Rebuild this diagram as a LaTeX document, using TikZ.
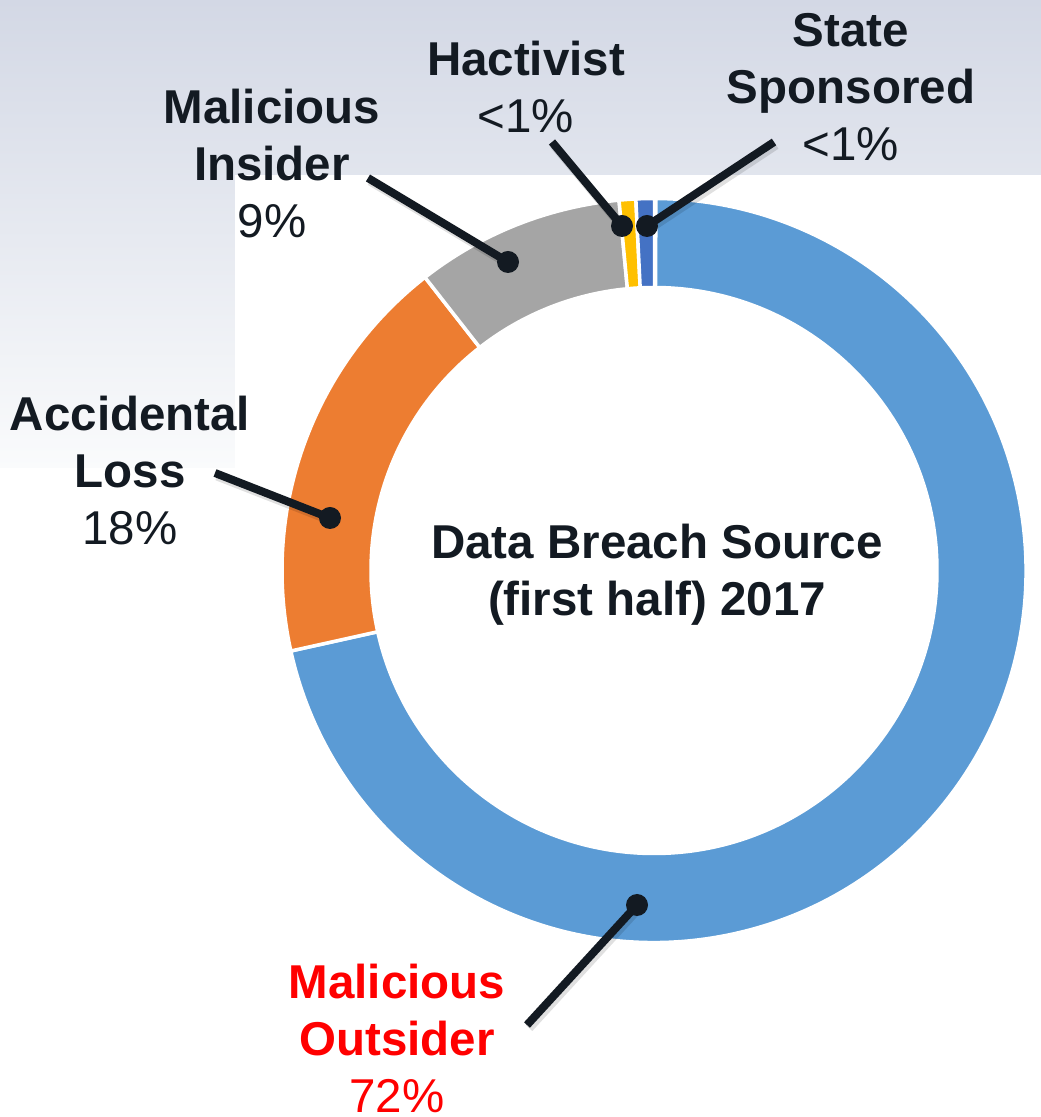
\documentclass[tikz,border=0pt]{standalone}
\usepackage{fontspec}
\setmainfont{Liberation Sans}
\usetikzlibrary{calc}
\definecolor{bgtop}{RGB}{211,216,229}
\definecolor{bgbot}{RGB}{250,251,252}
\definecolor{ink}{RGB}{19,26,34}
\definecolor{segblue}{RGB}{91,155,213}
\definecolor{segorange}{RGB}{237,125,49}
\definecolor{seggrey}{RGB}{165,165,165}
\definecolor{segyellow}{RGB}{255,192,0}
\definecolor{segdark}{RGB}{68,114,196}
\definecolor{outred}{RGB}{255,0,0}
\tikzset{
  lbl/.style={anchor=base, align=center, inner sep=0pt, text=ink,
    font=\fontsize{47.5}{57}\selectfont},
  seg/.style={draw=white, line width=3.5pt, line join=miter},
  leader/.style={draw=ink, line width=8pt},
  leadshadow/.style={draw=black, opacity=0.12, line width=9pt},
  dotnode/.style={circle, fill=ink, minimum size=22pt, inner sep=0pt}
}
\newcommand{\ringseg}[3]{%
  \path[seg, fill=#1] (#2:372) arc[start angle=#2, end angle=#3, radius=372]
    -- (#3:283) arc[start angle=#3, end angle=#2, radius=283] -- cycle;}
\begin{document}
\begin{tikzpicture}[x=1pt,y=1pt]
\useasboundingbox (0,0) rectangle (1041,1117);
\fill[white] (0,0) rectangle (1041,1117);
\shade[top color=bgtop, bottom color=bgbot] (0,649) rectangle (1041,1117);
\fill[white] (235,0) rectangle (1041,942);

% donut
\begin{scope}[shift={(654,546.5)}]
  \ringseg{segblue}{-167.5}{89.7}
  \ringseg{segorange}{128}{192.5}
  \ringseg{seggrey}{95.4}{128}
  \ringseg{segyellow}{92.8}{95.4}
  \ringseg{segdark}{89.9}{92.8}
\end{scope}

% labels (anchor = baseline of last line)
\node[lbl] (title) at (657,501) {\textbf{Data Breach Source}\\\textbf{(first half) 2017}};
\node[lbl] (ins) at (272,879) {\textbf{Malicious}\\\textbf{Insider}\\9\%};
\node[lbl] (hact) at (526,984) {\textbf{Hactivist}\\<1\%};
\node[lbl] (state) at (851,956) {\textbf{State}\\\textbf{Sponsored}\\<1\%};
\node[lbl] (acc) at (130,572) {\textbf{Accidental}\\\textbf{Loss}\\18\%};
\node[lbl, text=outred] (out) at (397,5) {\textbf{Malicious}\\\textbf{Outsider}\\72\%};

% leader ends
\coordinate (ins-end) at (368,939);
\coordinate (hact-end) at (552,975);
\coordinate (state-end) at (774,975);
\coordinate (acc-end) at (215,644);
\coordinate (out-end) at (527,92);
\coordinate (ins-dotpos) at (508,855);
\coordinate (hact-dotpos) at (622,891);
\coordinate (state-dotpos) at (647,891);
\coordinate (acc-dotpos) at (330,599);
\coordinate (out-dotpos) at (637,212);

% shadows
\foreach \n in {ins,hact,state,acc,out}{
  \draw[leadshadow] ($(\n-end)+(2,-3)$) -- ($(\n-dotpos)+(2,-3)$);
}
% leaders
\foreach \n in {ins,hact,state,acc,out}{
  \node[dotnode] (\n-dot) at (\n-dotpos) {};
  \draw[leader] (\n-end) -- (\n-dot.center);
}
\end{tikzpicture}
\end{document}
